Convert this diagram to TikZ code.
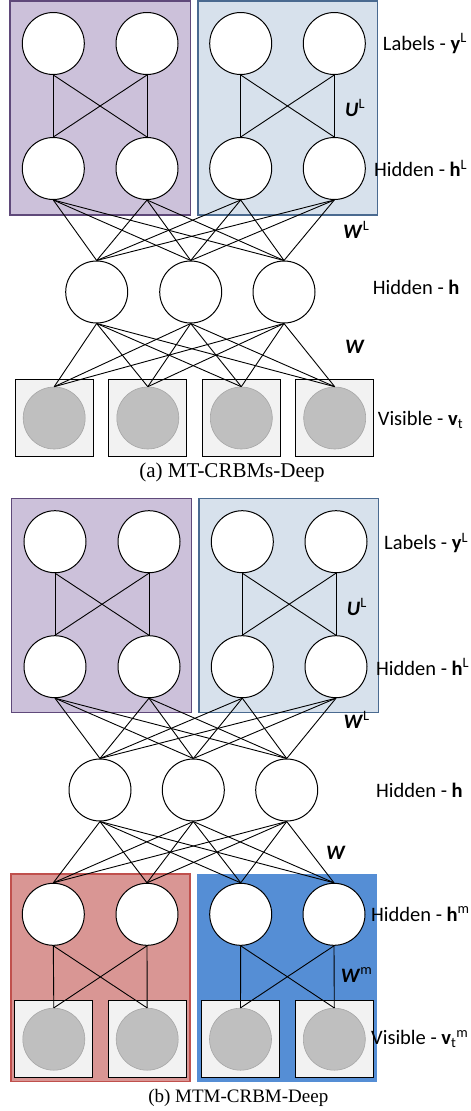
\documentclass[tikz,border=0pt]{standalone}
\usepackage{fontspec}
\setmainfont{Liberation Serif}
\newfontfamily\calfont{Carlito}
\definecolor{purfill}{HTML}{CCC1DA}
\definecolor{purline}{HTML}{5F497A}
\definecolor{lbfill}{HTML}{D7E1EC}
\definecolor{lbline}{HTML}{4A6A90}
\definecolor{redfill}{HTML}{D99694}
\definecolor{redline}{HTML}{C0504D}
\definecolor{bluefill}{HTML}{558ED5}
\definecolor{visfill}{HTML}{F2F2F2}
\definecolor{grayfill}{HTML}{BFBFBF}
\definecolor{grayline}{HTML}{A6A6A6}
\tikzset{
  unit/.style={circle,draw=black,line width=1pt,fill=white,minimum size=62pt,inner sep=0pt},
  visbox/.style={rectangle,draw=black,line width=1pt,fill=visfill,minimum width=78pt,minimum height=77pt,inner sep=0pt},
  visunit/.style={circle,draw=grayline,line width=0.6pt,fill=grayfill,minimum size=62pt,inner sep=0pt},
  conn/.style={line width=0.9pt,black},
  lab/.style={anchor=west,inner sep=0pt,font=\calfont\fontsize{20.5}{24}\selectfont},
  captext/.style={inner sep=0pt},
}
\begin{document}
\begin{tikzpicture}[x=1pt,y=-1pt]
\useasboundingbox (0,0) rectangle (471,1111);
% ---------------- panel (a) ----------------
\draw[fill=purfill,draw=purline,line width=1.4pt] (10,1) rectangle (190.7,215);
\draw[fill=lbfill,draw=lbline,line width=1.4pt] (198,1) rectangle (377.7,215);
\foreach \i/\x in {1/53.3,2/147,3/240.7,4/334.3}{
  \node[unit] (ay\i) at (\x,43.5) {};
  \node[unit] (ahl\i) at (\x,168.5) {};
}
\foreach \i/\x in {1/96.7,2/190.7,3/284}{
  \node[unit] (ah\i) at (\x,292) {};
}
\foreach \i/\x in {1/54.2,2/147.8,3/241.3,4/334.7}{
  \node[visbox] (avb\i) at (\x,418) {};
  \node[visunit] (av\i) at (\x,418) {};
}
\foreach \a/\b in {1/2,3/4}{
  \draw[conn] (ay\a.south) -- (ahl\a.north);
  \draw[conn] (ay\b.south) -- (ahl\b.north);
  \draw[conn] (ay\a.south) -- (ahl\b.north);
  \draw[conn] (ay\b.south) -- (ahl\a.north);
}
\foreach \i in {1,...,4}{\foreach \j in {1,2,3}{
  \draw[conn] (ahl\i.south) -- (ah\j.north);
  \draw[conn] (ah\j.south) -- (av\i.north);
}}
\node[lab] (alab1) at (382.7,43.5) {Labels - \textbf{y}\textsuperscript{L}};
\node[lab] (alab2) at (345,108) {\textbf{\textit{U}}\textsuperscript{L}};
\node[lab] (alab3) at (374,168.5) {Hidden - \textbf{h}\textsuperscript{L}};
\node[lab] (alab4) at (343,230) {\textbf{\textit{W}}\textsuperscript{L}};
\node[lab] (alab5) at (372.7,287) {Hidden - \textbf{h}};
\node[lab] (alab6) at (345,347) {\textbf{\textit{W}}};
\node[lab] (alab7) at (377.7,420) {Visible - \textbf{v}\textsubscript{t}};
\node[captext,font=\fontsize{21}{24}\selectfont] (acap) at (232,472.3) {(a) MT-CRBMs-Deep};
% ---------------- panel (b) ----------------
\draw[fill=purfill,draw=purline,line width=1.4pt] (11.7,498.3) rectangle (191.7,712.7);
\draw[fill=lbfill,draw=lbline,line width=1.4pt] (199,498.3) rectangle (378.3,712.7);
\draw[fill=redfill,draw=redline,line width=1.4pt] (11,874) rectangle (190,1081.7);
\fill[bluefill] (197.3,874) rectangle (377.3,1081.7);
\foreach \i/\x in {1/55,2/149,3/242.3,4/336}{
  \node[unit] (by\i) at (\x,541.7) {};
  \node[unit] (bhl\i) at (\x,666.7) {};
}
\foreach \i/\x in {1/100,2/193.3,3/286.7}{
  \node[unit] (bh\i) at (\x,790) {};
}
\foreach \i/\x in {1/53.3,2/147,3/240.7,4/334}{
  \node[unit] (bhm\i) at (\x,914.3) {};
}
\foreach \i/\x in {1/53.8,2/147.2,3/240.5,4/334.3}{
  \node[visbox] (bvb\i) at (\x,1039.2) {};
  \node[visunit] (bv\i) at (\x,1039.2) {};
}
\foreach \a/\b in {1/2,3/4}{
  \draw[conn] (by\a.south) -- (bhl\a.north);
  \draw[conn] (by\b.south) -- (bhl\b.north);
  \draw[conn] (by\a.south) -- (bhl\b.north);
  \draw[conn] (by\b.south) -- (bhl\a.north);
  \draw[conn] (bhm\a.south) -- (bv\a.north);
  \draw[conn] (bhm\b.south) -- (bv\b.north);
  \draw[conn] (bhm\a.south) -- (bv\b.north);
  \draw[conn] (bhm\b.south) -- (bv\a.north);
}
\foreach \i in {1,...,4}{\foreach \j in {1,2,3}{
  \draw[conn] (bhl\i.south) -- (bh\j.north);
  \draw[conn] (bh\j.south) -- (bhm\i.north);
}}
\node[lab] (blab1) at (384,543) {Labels - \textbf{y}\textsuperscript{L}};
\node[lab] (blab2) at (346.7,606.7) {\textbf{\textit{U}}\textsuperscript{L}};
\node[lab] (blab3) at (376,666.7) {Hidden - \textbf{h}\textsuperscript{L}};
\node[lab] (blab4) at (343.3,720) {\textbf{\textit{W}}\textsuperscript{L}};
\node[lab] (blab5) at (376,790) {Hidden - \textbf{h}};
\node[lab] (blab6) at (326,853.3) {\textbf{\textit{W}}};
\node[lab] (blab7) at (371,914.3) {Hidden - \textbf{h}\textsuperscript{m}};
\node[lab] (blab8) at (340.7,975) {\textbf{\textit{W}}\textsuperscript{m}};
\node[lab] (blab9) at (371,1039) {Visible - \textbf{v}\textsubscript{t}\textsuperscript{m}};
\node[captext,font=\fontsize{19}{22}\selectfont] (bcap) at (238.3,1098.3) {(b) MTM-CRBM-Deep};
\end{tikzpicture}
\end{document}
